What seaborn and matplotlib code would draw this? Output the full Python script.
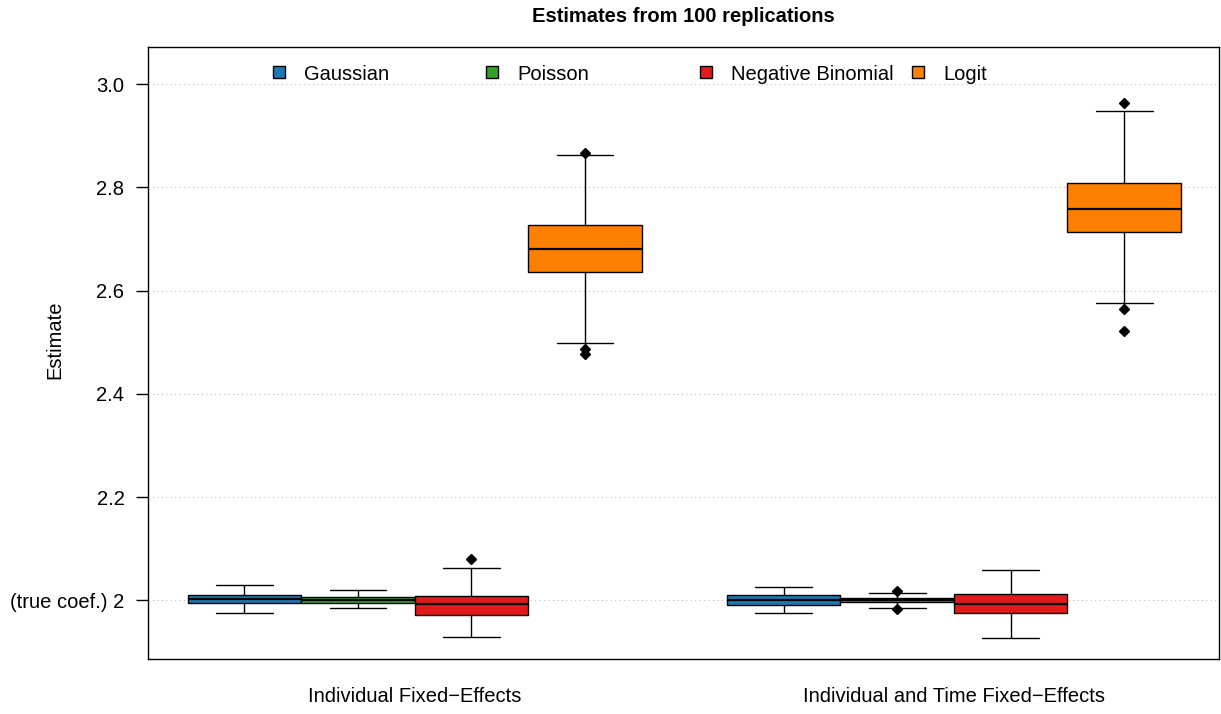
import numpy as np
import pandas as pd
import seaborn as sns
import matplotlib.pyplot as plt
from matplotlib.lines import Line2D
from matplotlib.legend import Legend

groups = ["Individual Fixed\u2212Effects", "Individual and Time Fixed\u2212Effects"]
models = ["Gaussian", "Poisson", "Negative Binomial", "Logit"]
colors = ["#1F78B4", "#33A02C", "#E31A1C", "#FF7F00"]

# box summaries, one entry per model
# Individual Fixed-Effects
ind_whislo = [1.9754, 1.9845, 1.9293, 2.4990]
ind_q1 = [1.9948, 1.9950, 1.9715, 2.6350]
ind_med = [2.0019, 2.0005, 1.9923, 2.6810]
ind_q3 = [2.0097, 2.0060, 2.0083, 2.7270]
ind_whishi = [2.0290, 2.0205, 2.0620, 2.8625]
ind_out = [[], [], [2.080], [2.866, 2.486, 2.478]]

# Individual and Time Fixed-Effects
two_whislo = [1.9760, 1.9850, 1.9270, 2.5752]
two_q1 = [1.9915, 1.9962, 1.9748, 2.7140]
two_med = [2.0006, 2.0000, 1.9928, 2.7585]
two_q3 = [2.0097, 2.0045, 2.0122, 2.8080]
two_whishi = [2.0252, 2.0147, 2.0593, 2.9470]
two_out = [[], [2.0185, 1.9830], [], [2.9638, 2.5648, 2.5222]]


# turn a five-number summary into points that give the same box in seaborn
def box_points(lo, q1, med, q3, hi, out, rep=10):
    return [lo] + [q1] * rep + [med] * rep + [q3] * rep + [hi] + list(out)


rows = []
summaries = [
    (ind_whislo, ind_q1, ind_med, ind_q3, ind_whishi, ind_out),
    (two_whislo, two_q1, two_med, two_q3, two_whishi, two_out),
]
for g, (lo, q1, med, q3, hi, out) in zip(groups, summaries):
    for i, m in enumerate(models):
        for v in box_points(lo[i], q1[i], med[i], q3[i], hi[i], out[i]):
            rows.append((g, m, v))
df = pd.DataFrame(rows, columns=["group", "model", "value"])

sns.set_style("white")
plt.rcParams["font.family"] = ["Liberation Sans", "DejaVu Sans"]
plt.rcParams.update({"text.color": "black", "axes.labelcolor": "black",
                     "xtick.color": "black", "ytick.color": "black"})
fs = 14.5

W, H = 1221, 714
fig = plt.figure(figsize=(W / 100, H / 100), dpi=100)
ax = fig.add_axes([148 / W, 1 - 659 / H, (1219 - 148) / W, (659 - 47) / H])

sns.boxplot(data=df, x="group", y="value", hue="model", order=groups,
            hue_order=models, palette=colors, saturation=1, width=0.842,
            gap=0, linecolor="black", linewidth=1, legend=False, ax=ax,
            flierprops=dict(marker="D", markerfacecolor="black",
                            markeredgecolor="black", markersize=5),
            medianprops=dict(color="black", linewidth=1.6))

ax.set_xlim(-0.4947, 1.4916)
ax.set_ylim(1.8863, 3.0717)

yt = [2.0, 2.2, 2.4, 2.6, 2.8, 3.0]
ax.set_yticks(yt)
ax.set_yticklabels(["(true coef.) 2", "2.2", "2.4", "2.6", "2.8", "3.0"])
ax.yaxis.grid(True, linestyle=(0, (1, 3)), color="#bbbbbb", linewidth=0.8)
ax.xaxis.grid(False)
ax.set_axisbelow(True)

ax.tick_params(axis="y", direction="out", length=9, width=1, pad=8,
               labelsize=fs, color="black", labelcolor="black", left=True)
ax.tick_params(axis="x", length=0, pad=20, labelsize=fs, labelcolor="black")
ax.set_xlabel("")
ax.set_ylabel("Estimate", fontsize=fs, color="black")
ax.yaxis.set_label_coords((64 - 148) / 1071, (659 - 340) / 612)

for s in ax.spines.values():
    s.set_visible(True)
    s.set_color("black")
    s.set_linewidth(1)

# legend row across the top, equal spacing like the original
leg_x = [279, 492, 706, 918]
for name, col, xp in zip(models, colors, leg_x):
    h = Line2D([], [], linestyle="none", marker="s", markersize=9,
               markerfacecolor=col, markeredgecolor="black", markeredgewidth=1)
    left = (xp - 0.5 * fs * 100 / 72 - 148) / 1071
    leg = Legend(ax, [h], [name], loc="center left",
                 bbox_to_anchor=(left, (659 - 74) / 612), frameon=False,
                 borderpad=0, borderaxespad=0, handlelength=1.0,
                 handletextpad=0.74, fontsize=fs, labelcolor="black")
    ax.add_artist(leg)

fig.text((148 + 1219) / 2 / W, 1 - 17 / H, "Estimates from 100 replications",
         ha="center", va="center", fontsize=fs, fontweight="bold",
         color="black")

fig.savefig("out.png", dpi=100)
